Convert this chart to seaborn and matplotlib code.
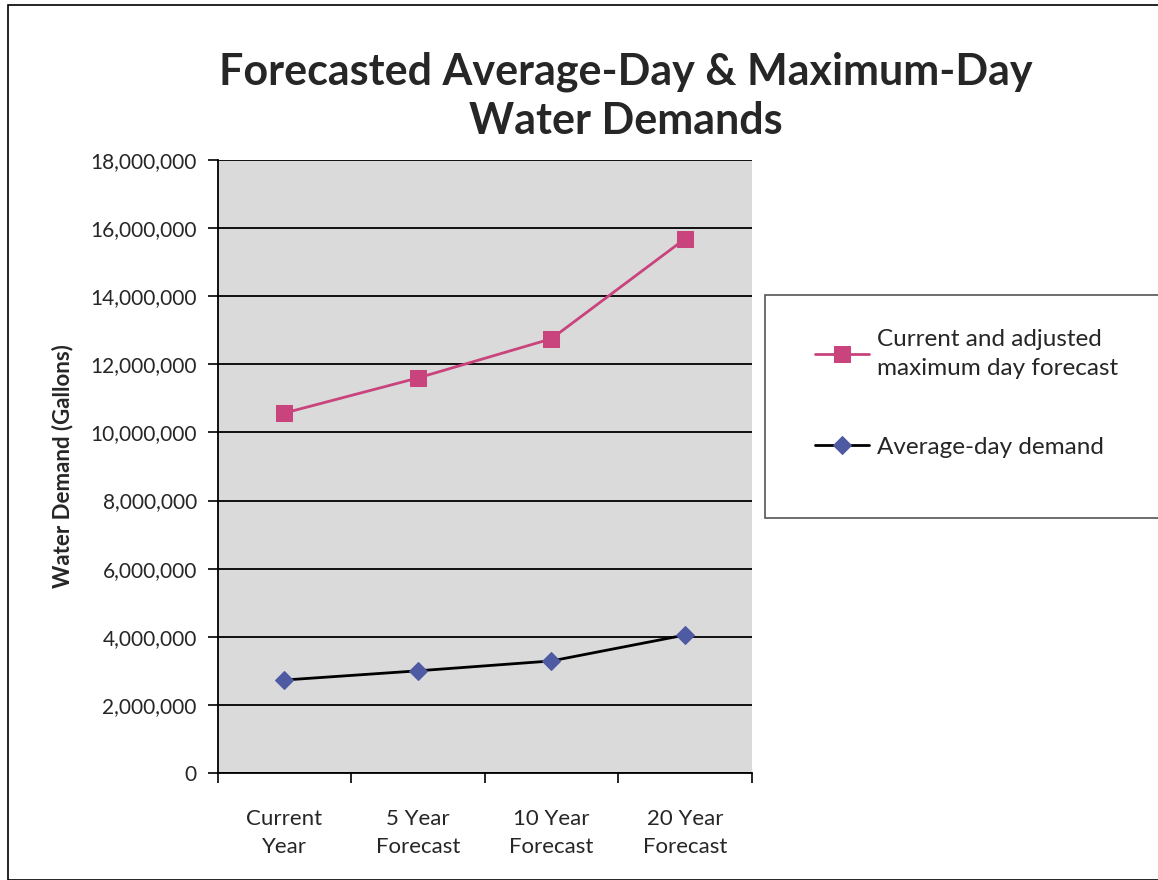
import matplotlib
matplotlib.use("Agg")
import matplotlib.pyplot as plt
from matplotlib.patches import Rectangle
from matplotlib.ticker import FuncFormatter, FixedLocator
import seaborn as sns
import pandas as pd

# Données
periods = ["Current\nYear", "5 Year\nForecast", "10 Year\nForecast", "20 Year\nForecast"]
max_day = [10_570_000, 11_600_000, 12_750_000, 15_680_000]
avg_day = [2_730_000, 3_000_000, 3_290_000, 4_050_000]
max_label = "Current and adjusted\nmaximum day forecast"
avg_label = "Average-day demand"
y_ticks = list(range(0, 18_000_001, 2_000_000))

sns.set_theme(style="white")
plt.rcParams["font.family"] = ["Lato", "DejaVu Sans"]

df = pd.DataFrame({"period": periods, "max_day": max_day, "avg_day": avg_day})

fig = plt.figure(figsize=(11.58, 8.8), dpi=100)
ax = fig.add_axes([0.188, 0.1216, 0.461, 0.6966])
ax.set_facecolor("#dadada")

sns.lineplot(data=df, x="period", y="max_day", ax=ax, color="#c9437c",
             linewidth=2, marker="s", markersize=11, markeredgecolor="#c9437c",
             label=max_label, legend=False)
sns.lineplot(data=df, x="period", y="avg_day", ax=ax, color="black",
             linewidth=2, marker="D", markersize=9, markerfacecolor="#4e5aa2",
             markeredgecolor="#4e5aa2", label=avg_label, legend=False)

ax.set_xlim(-0.5, len(periods) - 0.5)
ax.set_ylim(0, 18_000_000)
ax.set_yticks(y_ticks)
ax.yaxis.set_major_formatter(FuncFormatter(lambda v, p: f"{int(v):,}"))
ax.yaxis.grid(True, color="black", linewidth=1.3)
ax.set_axisbelow(True)

# ticks between categories on x
ax.set_xticks(range(len(periods)))
ax.set_xticklabels(periods)
ax.xaxis.set_minor_locator(FixedLocator([i - 0.5 for i in range(len(periods) + 1)]))
ax.tick_params(axis="x", which="major", length=0, labelsize=16, pad=26)
ax.tick_params(axis="x", which="minor", length=7, width=1.2, color="black", direction="out", bottom=True)
ax.tick_params(axis="y", length=7, width=1.2, color="black", direction="out", left=True, labelsize=15, pad=8)
for lbl in ax.get_xticklabels():
    lbl.set_linespacing(1.5)

ax.set_xlabel("")
ax.set_ylabel("Water Demand (Gallons)", fontsize=16, fontweight="bold", labelpad=12)

for side in ["top", "right"]:
    ax.spines[side].set_visible(False)
for side in ["left", "bottom"]:
    ax.spines[side].set_color("black")
    ax.spines[side].set_linewidth(1.3)

fig.suptitle("Forecasted Average-Day & Maximum-Day\nWater Demands",
             x=0.54, y=0.942, fontsize=31, fontweight="bold", linespacing=1.3)

# cadre extérieur et boîte de légende
fig.patches.append(Rectangle((0.007, 0.0), 1.2, 0.994, transform=fig.transFigure,
                             fill=False, edgecolor="black", linewidth=1.2))
fig.patches.append(Rectangle((0.661, 0.411), 0.36, 0.254, transform=fig.transFigure,
                             fill=True, facecolor="white", edgecolor="#555555", linewidth=1.2))

handles, labels = ax.get_legend_handles_labels()
leg = fig.legend(handles, labels, loc="upper left", bbox_to_anchor=(0.685, 0.651),
                 frameon=False, fontsize=17.5, handlelength=2.2, labelspacing=2.4,
                 handletextpad=0.35)
for t in leg.get_texts():
    t.set_linespacing(1.45)

fig.savefig("out.png", dpi=100)
